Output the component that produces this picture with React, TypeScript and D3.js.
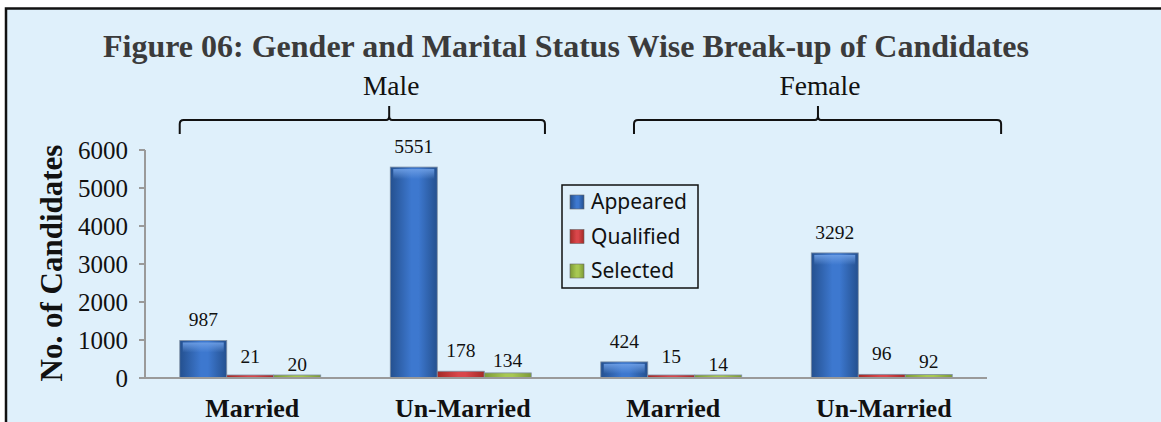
import React from "react";
import * as d3 from "d3";

const groups = ["Male-Married", "Male-UnMarried", "Female-Married", "Female-UnMarried"];
const groupLabels = ["Married", "Un-Married", "Married", "Un-Married"];
const seriesNames = ["Appeared", "Qualified", "Selected"];
const appeared = [987, 5551, 424, 3292];
const qualified = [21, 178, 15, 96];
const selected = [20, 134, 14, 92];
const yTicks = [0, 1000, 2000, 3000, 4000, 5000, 6000];
const genderLabels = ["Male", "Female"];
// brace spans in group-index units (0 = left edge of first group)
const braceStart = [0.165, 2.323];
const braceEnd = [1.9, 4.067];
const braceTip = [1.16, 3.197];

const seriesValues = [appeared, qualified, selected];
const labelGap = [21, 21, 13];
const colors = [
  { dark: "#24508f", mid: "#3d78cf", light: "#6fa0e6" },
  { dark: "#a42a26", mid: "#d9464a", light: "#f08888" },
  { dark: "#7d9a36", mid: "#a8c852", light: "#d0e68a" },
];

const W = 1161;
const H = 422;
const plotLeft = 145;
const plotRight = 987;
const plotTop = 150;
const plotBottom = 378;

export default function App() {
  const x = d3.scaleBand<string>().domain(groups).range([plotLeft, plotRight]).padding(0);
  const xs = d3.scaleBand<string>().domain(seriesNames).range([0, x.bandwidth()]).paddingInner(0).paddingOuter(0.74);
  const y = d3.scaleLinear().domain([0, 6000]).range([plotBottom, plotTop]);
  const gx = d3.scaleLinear().domain([0, groups.length]).range([plotLeft, plotRight]);

  const serif = "'Liberation Serif', 'Times New Roman', serif";
  const sans = "'Noto Sans', 'Open Sans', sans-serif";

  const bracePath = (x0: number, x1: number, xm: number) => {
    const yTop = 120;
    const yEnd = 134;
    const r = 4;
    return [
      `M${x0},${yEnd}`,
      `L${x0},${yTop + r}`,
      `Q${x0},${yTop} ${x0 + r},${yTop}`,
      `L${xm - 3},${yTop}`,
      `Q${xm},${yTop} ${xm},${yTop - 4}`,
      `L${xm},${yTop - 14}`,
      `M${xm},${yTop - 4}`,
      `Q${xm},${yTop} ${xm + 3},${yTop}`,
      `L${x1 - r},${yTop}`,
      `Q${x1},${yTop} ${x1},${yTop + r}`,
      `L${x1},${yEnd}`,
    ].join(" ");
  };

  return (
    <svg width={W} height={H} style={{ display: "block", position: "absolute", left: 0, top: 0 }}>
      <defs>
        {colors.map((c, i) => (
          <linearGradient key={i} id={`g${i}`} x1="0" x2="1" y1="0" y2="0">
            <stop offset="0" stopColor={c.dark} />
            <stop offset="0.45" stopColor={c.mid} />
            <stop offset="0.6" stopColor={c.mid} />
            <stop offset="1" stopColor={c.dark} />
          </linearGradient>
        ))}
        {colors.map((c, i) => (
          <linearGradient key={`h${i}`} id={`h${i}`} x1="0" x2="0" y1="0" y2="1">
            <stop offset="0" stopColor={c.light} stopOpacity="0.9" />
            <stop offset="1" stopColor={c.light} stopOpacity="0" />
          </linearGradient>
        ))}
      </defs>
      <rect x={0} y={0} width={W} height={H} fill="#ffffff" />
      <rect x={6} y={8.5} width={W + 20} height={H + 20} fill="#dff0fb" stroke="#111" strokeWidth={2.5} />

      <text x={566} y={57} textAnchor="middle" fontFamily={serif} fontWeight="bold" fontSize={32} fill="#3b3b3b">
        Figure 06: Gender and Marital Status Wise Break-up of Candidates
      </text>

      {genderLabels.map((g, i) => {
        const x0 = gx(braceStart[i]);
        const x1 = gx(braceEnd[i]);
        const xm = gx(braceTip[i]);
        return (
          <g key={g}>
            <text x={xm + 2} y={95} textAnchor="middle" fontFamily={serif} fontSize={27.5} fill="#111">{g}</text>
            <path d={bracePath(x0, x1, xm)} fill="none" stroke="#111" strokeWidth={2} />
          </g>
        );
      })}

      {/* Y axis */}
      <line x1={plotLeft} x2={plotLeft} y1={plotTop} y2={plotBottom} stroke="#9a9a9a" strokeWidth={2} />
      {yTicks.map((t) => (
        <g key={t}>
          <line x1={plotLeft - 6} x2={plotLeft} y1={y(t)} y2={y(t)} stroke="#9a9a9a" strokeWidth={2} />
          <text x={128} y={y(t)} dy="0.35em" textAnchor="end" fontFamily={serif} fontSize={25} fill="#111">{t}</text>
        </g>
      ))}
      <text transform={`translate(62,263) rotate(-90)`} textAnchor="middle" fontFamily={serif} fontWeight="bold" fontSize={31} fill="#111">
        No. of Candidates
      </text>

      {/* Bars */}
      {groups.map((g, gi) => (
        <g key={g}>
          {seriesNames.map((s, si) => {
            const v = seriesValues[si][gi];
            const bx = (x(g) as number) + (xs(s) as number);
            const bw = xs.bandwidth();
            const h = Math.max(plotBottom - y(v), 3);
            const by = plotBottom - h;
            return (
              <g key={s}>
                <rect x={bx} y={by} width={bw} height={h} fill={`url(#g${si})`} stroke="#7f8fa3" strokeWidth={0.8} />
                {h > 10 && (
                  <rect x={bx + 3} y={by + 2} width={bw - 6} height={Math.min(10, h - 4)} fill={`url(#h${si})`} />
                )}
                <text x={bx + bw / 2} y={y(v) - labelGap[si]} dy="0.35em" textAnchor="middle" fontFamily={serif} fontSize={19.5} fill="#111">
                  {v}
                </text>
              </g>
            );
          })}
          <text x={(x(g) as number) + x.bandwidth() / 2 + 2} y={417} textAnchor="middle" fontFamily={serif} fontWeight="bold" fontSize={26} fill="#111">
            {groupLabels[gi]}
          </text>
        </g>
      ))}

      {/* X baseline */}
      <line x1={plotLeft} x2={plotRight} y1={plotBottom} y2={plotBottom} stroke="#9a9a9a" strokeWidth={2} />

      {/* Legend */}
      <rect x={562} y={185} width={136} height={103} fill="#dff0fb" stroke="#111" strokeWidth={1.5} />
      {seriesNames.map((s, i) => (
        <g key={s} transform={`translate(570,${202 + i * 34.5})`}>
          <rect x={0} y={-7} width={14} height={14} fill={`url(#g${i})`} stroke="#666" strokeWidth={0.6} />
          <text x={21} y={0} dy="0.35em" fontFamily={sans} fontSize={21} fill="#111">{s}</text>
        </g>
      ))}
    </svg>
  );
}
